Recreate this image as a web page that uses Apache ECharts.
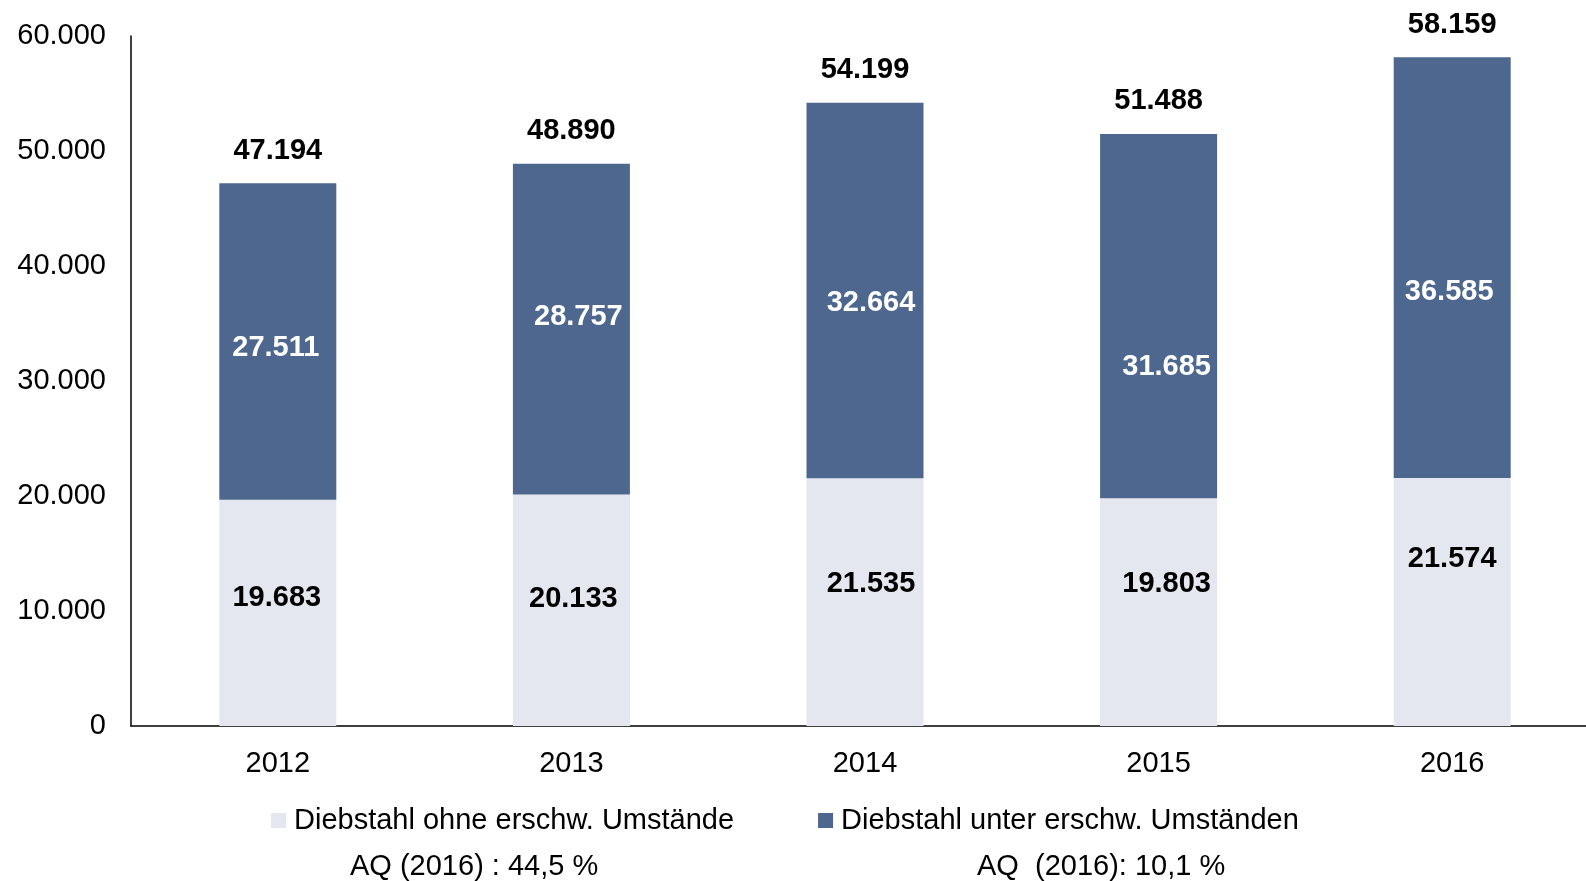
<!DOCTYPE html>
<html>
<head>
<meta charset="utf-8">
<script src="https://cdn.jsdelivr.net/npm/echarts@6/dist/echarts.min.js"></script>
<style>
html, body { margin: 0; padding: 0; background: #fff; }
#chart { width: 1586px; height: 881px; }
</style>
</head>
<body>
<div id="chart"></div>
<script>
var years = ['2012', '2013', '2014', '2015', '2016'];
var ohne = [19683, 20133, 21535, 19803, 21574];
var unter = [27511, 28757, 32664, 31685, 36585];
var totals = [47194, 48890, 54199, 51488, 58159];
var yTicks = [0, 10000, 20000, 30000, 40000, 50000, 60000];
var notes = ['AQ (2016) : 44,5 %', 'AQ  (2016): 10,1 %'];

// label nudges (px), the labels in the original were moved by hand
var ohneShift = [[-1, -15], [2, -11], [6, -18], [8, -28], [0, -43]];
var unterShift = [[-2, 7], [7, -12], [6, 12], [8, 51], [-3, 24]];

function fmt(v) {
  return String(v).replace(/\B(?=(\d{3})+(?!\d))/g, '.');
}

function withShift(vals, shifts) {
  return vals.map(function (v, i) {
    return { value: v, label: { offset: shifts[i] } };
  });
}

var fontFam = '"Liberation Sans", Arial, sans-serif';
var myChart = echarts.init(document.getElementById('chart'));

var option = {
  animation: false,
  textStyle: { fontFamily: fontFam },
  grid: { left: 131, width: 1468, top: 36, bottom: 155, outerBoundsMode: 'none', containLabel: false },
  legend: {
    data: ['Diebstahl ohne erschw. Umstände', 'Diebstahl unter erschw. Umständen'],
    left: 266,
    top: 801,
    icon: 'rect',
    itemWidth: 15,
    itemHeight: 15,
    itemGap: 84,
    textStyle: { fontSize: 29, color: '#000', fontFamily: fontFam, padding: [0, 0, 0, 3] }
  },
  xAxis: {
    type: 'category',
    data: years,
    axisLine: { lineStyle: { color: '#000', width: 1.5 } },
    axisTick: { show: false },
    axisLabel: { fontSize: 29, color: '#000', margin: 23 }
  },
  yAxis: {
    type: 'value',
    min: yTicks[0],
    max: yTicks[yTicks.length - 1],
    interval: 10000,
    splitLine: { show: false },
    axisLine: { show: true, lineStyle: { color: '#000', width: 1.5 } },
    axisTick: { show: false },
    axisLabel: { fontSize: 29, color: '#000', margin: 25, formatter: fmt }
  },
  series: [
    {
      name: 'Diebstahl ohne erschw. Umstände',
      type: 'bar',
      stack: 'a',
      barWidth: 117,
      data: withShift(ohne, ohneShift),
      itemStyle: { color: '#e4e7ef' },
      label: {
        show: true, position: 'inside', fontSize: 29, fontWeight: 'bold', color: '#000',
        formatter: function (p) { return fmt(p.value); }
      }
    },
    {
      name: 'Diebstahl unter erschw. Umständen',
      type: 'bar',
      stack: 'a',
      barWidth: 117,
      data: withShift(unter, unterShift),
      itemStyle: { color: '#4d678f' },
      label: {
        show: true, position: 'inside', fontSize: 29, fontWeight: 'bold', color: '#fff',
        formatter: function (p) { return fmt(p.value); }
      }
    },
    {
      name: 'Summe',
      type: 'bar',
      barWidth: 117,
      barGap: '-100%',
      data: totals,
      z: 0,
      itemStyle: { color: 'rgba(0,0,0,0)' },
      label: {
        show: true, position: 'top', distance: 18, fontSize: 29, fontWeight: 'bold', color: '#000',
        formatter: function (p) { return fmt(p.value); }
      }
    }
  ],
  graphic: [
    {
      type: 'text', left: 350, top: 852,
      style: { text: notes[0], fill: '#000', font: '29px ' + fontFam }
    },
    {
      type: 'text', left: 977, top: 852,
      style: { text: notes[1], fill: '#000', font: '29px ' + fontFam }
    }
  ]
};

myChart.setOption(option);
</script>
</body>
</html>
